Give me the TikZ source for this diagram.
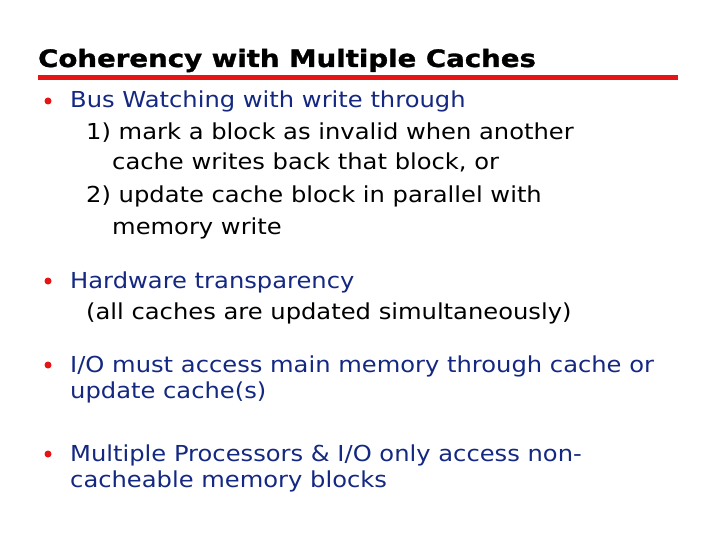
\documentclass[tikz,border=0pt]{standalone}
\usepackage{fontspec}
\setmainfont{DejaVu Sans}[FakeStretch=1.10]
\newfontfamily\titlefont{DejaVu Sans}[FakeStretch=1.15,FakeBold=1.2]
\definecolor{bblue}{RGB}{20,40,130}
\definecolor{bred}{RGB}{230,20,20}
\begin{document}
\begin{tikzpicture}[x=1pt,y=-1pt,
  txt/.style={anchor=base west,inner sep=0pt,font=\fontsize{22}{24}\selectfont},
  lvl1/.style={txt,text=bblue},
  lvl2/.style={txt,text=black},
  bul/.style={circle,fill=bred,inner sep=0pt,minimum size=7pt}]
\useasboundingbox (0,0) rectangle (720,540);
\node[anchor=base west,inner sep=0pt,font=\titlefont\fontsize{24}{26}\selectfont\bfseries] (title) at (38,67) {Coherency with Multiple Caches};
\draw[bred,line width=5pt] (38,78) -- (678,78);
\node[bul] (b1) at (48,101) {};
\node[lvl1] (t1) at (70,108) {Bus Watching with write through};
\node[lvl2] (t1a) at (86,140) {1) mark a block as invalid when another};
\node[lvl2] (t1b) at (112,170) {cache writes back that block, or};
\node[lvl2] (t1c) at (86,203) {2) update cache block in parallel with};
\node[lvl2] (t1d) at (112,235) {memory write};
\node[bul] (b2) at (48,281) {};
\node[lvl1] (t2) at (70,288) {Hardware transparency};
\node[lvl2] (t2a) at (86,319) {(all caches are updated simultaneously)};
\node[bul] (b3) at (48,365) {};
\node[lvl1] (t3) at (70,372) {I/O must access main memory through cache or};
\node[lvl1] (t3a) at (70,398) {update cache(s)};
\node[bul] (b4) at (48,454) {};
\node[lvl1] (t4) at (70,461) {Multiple Processors \& I/O only access non-};
\node[lvl1] (t4a) at (70,487) {cacheable memory blocks};
\end{tikzpicture}
\end{document}
